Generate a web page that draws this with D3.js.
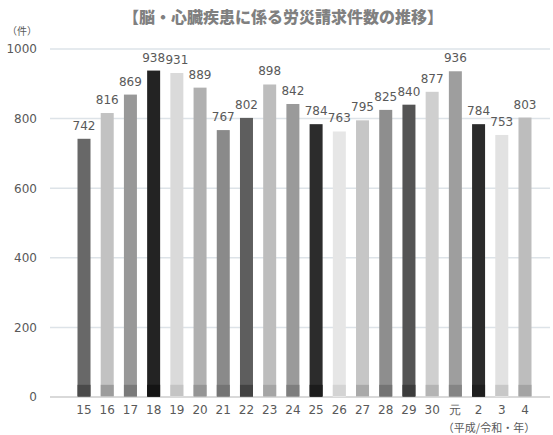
<!DOCTYPE html>
<html><head><meta charset="utf-8">
<script src="https://cdn.jsdelivr.net/npm/d3@7"></script>
<style>body{margin:0;background:#fff}svg{display:block}</style>
</head><body>
<svg id="c" width="553" height="435"></svg>
<script>
const categories = ["15","16","17","18","19","20","21","22","23","24","25","26","27","28","29","30","元","2","3","4"];
const values = [742,816,869,938,931,889,767,802,898,842,784,763,795,825,840,877,936,784,753,803];
const barColors = ["#686868","#c2c2c2","#989898","#232323","#dadada","#b0b0b0","#8a8a8a","#5e5e5e","#bdbdbd","#9a9a9a","#2c2c2c","#e6e6e6","#c6c6c6","#8e8e8e","#545454","#cfcfcf","#9e9e9e","#2b2b2b","#e2e2e2","#bdbdbd"];
const baseColors = ["#4a4a4a","#9c9c9c","#7a7a7a","#141414","#c4c4c4","#959595","#747474","#434343","#a5a5a5","#7e7e7e","#1c1c1c","#d4d4d4","#a9a9a9","#747474","#3c3c3c","#b4b4b4","#858585","#1e1e1e","#c8c8c8","#a4a4a4"];
const yTicks = [0,200,400,600,800,1000];
const title = "【脳・心臓疾患に係る労災請求件数の推移】";
const yUnit = "（件）";
const xUnit = "（平成/令和・年）";

const svg = d3.select("#c");
const x = d3.scaleBand().domain(categories).range([72.4,536.6]).paddingInner(0.44).paddingOuter(0.22);
const y = d3.scaleLinear().domain([0,1000]).range([397,49]);
const font = "'DejaVu Sans', Verdana, sans-serif";

svg.append("text").attr("x",283).attr("y",23).attr("text-anchor","middle")
  .attr("font-family","'Noto Sans CJK JP', sans-serif").attr("font-weight",900)
  .attr("font-size",16).attr("fill","#808080").text(title);

// gridlines
svg.append("g").selectAll("line").data(yTicks).join("line")
  .attr("x1",50).attr("x2",550).attr("y1",d=>y(d)).attr("y2",d=>y(d))
  .attr("stroke",d=>d===0?"#d9d9d9":"#dde3e8").attr("stroke-width",d=>d===0?2:1.5);

// y axis labels
const yAxis = d3.axisLeft(y).tickValues(yTicks).tickSize(0).tickPadding(0).tickFormat(d3.format("d"));
const ga = svg.append("g").attr("transform","translate(37,0)").call(yAxis);
ga.select(".domain").remove();
ga.selectAll("text").attr("font-family",font).attr("font-size",12).attr("fill","#595959");

svg.append("text").attr("x",22).attr("y",35).attr("text-anchor","middle")
  .attr("font-family","'Noto Sans CJK JP', sans-serif").attr("font-size",10).attr("fill","#595959").text(yUnit);

// bars
const bars = svg.append("g").selectAll("g").data(values).join("g");
bars.append("rect").attr("x",(d,i)=>x(categories[i])).attr("width",x.bandwidth())
  .attr("y",d=>y(d)).attr("height",d=>y(0)-y(d)).attr("fill",(d,i)=>barColors[i]);
bars.append("rect").attr("x",(d,i)=>x(categories[i])).attr("width",x.bandwidth())
  .attr("y",y(35)).attr("height",y(0)-y(35)-1).attr("fill",(d,i)=>baseColors[i]);

// value labels
svg.append("g").selectAll("text").data(values).join("text")
  .attr("x",(d,i)=>x(categories[i])+x.bandwidth()/2).attr("y",d=>y(d)-9)
  .attr("text-anchor","middle").attr("font-family",font).attr("font-size",12).attr("fill","#595959")
  .text(d=>d);

// x axis labels
const xAxis = d3.axisBottom(x).tickSize(0).tickPadding(0);
const gx = svg.append("g").attr("transform","translate(0,405)").call(xAxis);
gx.select(".domain").remove();
gx.selectAll("text").attr("font-family",font).attr("font-size",12).attr("fill","#595959").attr("dy","0.71em");

svg.append("text").attr("x",489).attr("y",432).attr("text-anchor","middle")
  .attr("font-family","'Noto Sans CJK JP', sans-serif").attr("font-size",11).attr("fill","#595959").text(xUnit);
</script>
</body></html>
